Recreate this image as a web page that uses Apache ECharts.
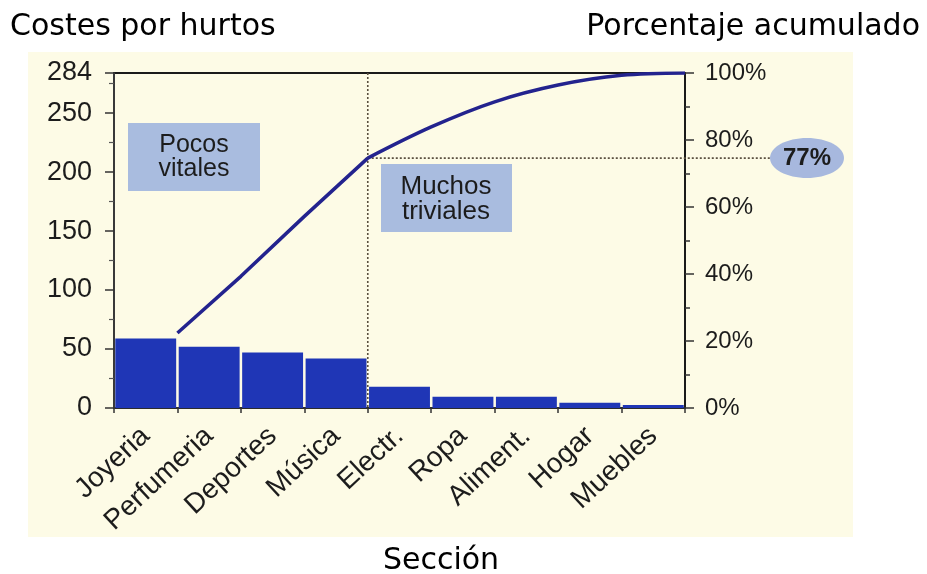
<!DOCTYPE html>
<html>
<head>
<meta charset="utf-8">
<script src="https://cdn.jsdelivr.net/npm/echarts@6/dist/echarts.min.js"></script>
<style>
html,body{margin:0;padding:0;background:#ffffff;}
#chart{width:927px;height:574px;}
</style>
</head>
<body>
<div id="chart"></div>
<script>
// ---- data ----
const categories = ['Joyeria', 'Perfumeria', 'Deportes', 'Música', 'Electr.', 'Ropa', 'Aliment.', 'Hogar', 'Muebles'];
const costs = [59, 52, 47, 42, 18, 9.5, 9.5, 4.5, 2.5];
// cumulative percentage at the right edge of each category (1..9)
const cumulativePct = [22.4, 39.3, 57.2, 74.6, 83.9, 91.4, 96.4, 99.3, 100];
const leftTickValues = [0, 50, 100, 150, 200, 250, 284];
const leftMinorTickValues = [25, 75, 125, 175, 225, 275];
const rightTickValues = [0, 20, 40, 60, 80, 100];
const splitIndex = 4;            // boundary between "pocos vitales" and "muchos triviales"
const highlightLabel = '77%';
const leftTitle = 'Costes por hurtos';
const rightTitle = 'Porcentaje acumulado';
const xTitle = 'Sección';
const boxVital = ['Pocos', 'vitales'];
const boxTrivial = ['Muchos', 'triviales'];

const cumPoints = cumulativePct.map((v, i) => [i + 1, v]);
const straightPart = cumPoints.slice(0, splitIndex);
const curvedPart = cumPoints.slice(splitIndex - 1);

const FONT = '"Liberation Sans", Arial, sans-serif';
const TITLE_FONT = '"DejaVu Sans", sans-serif';
const INK = '#1c1c1c';

const chart = echarts.init(document.getElementById('chart'), null, {renderer: 'canvas'});

const option = {
  animation: false,
  backgroundColor: 'transparent',
  grid: {
    left: 114, right: 242, top: 73, bottom: 166,
    show: true, borderColor: '#1a1a1a', borderWidth: 2, backgroundColor: 'transparent'
  },
  xAxis: [
    {
      type: 'category',
      data: categories,
      boundaryGap: true,
      axisLine: {lineStyle: {color: '#333', width: 1.5}},
      axisTick: {show: true, length: 5, lineStyle: {color: '#333', width: 1.5}},
      axisLabel: {
        rotate: 43, margin: 24, fontSize: 28, color: INK, fontFamily: FONT,
        interval: 0
      },
      splitLine: {show: false}
    },
    {
      type: 'value', min: 0, max: categories.length, show: false
    }
  ],
  yAxis: [
    {
      type: 'value', position: 'left', min: 0, max: 284,
      axisLine: {show: true, lineStyle: {color: '#444', width: 1.5}},
      axisTick: {show: true, inside: false, length: 9, customValues: leftTickValues, lineStyle: {color: '#333', width: 1.5}},
      axisLabel: {customValues: leftTickValues, fontSize: 27, color: INK, fontFamily: FONT, margin: 22},
      splitLine: {show: false}
    },
    {
      type: 'value', position: 'right', min: 0, max: 100, interval: 20,
      axisLine: {show: true, lineStyle: {color: '#1a1a1a', width: 2}},
      axisTick: {show: true, length: 9, customValues: rightTickValues, lineStyle: {color: '#333', width: 1.5}},
      minorTick: {show: true, splitNumber: 2, length: 5, lineStyle: {color: '#333', width: 1.5}},
      axisLabel: {customValues: rightTickValues, formatter: '{value}%', fontSize: 24, color: INK, fontFamily: FONT, margin: 20},
      splitLine: {show: false}
    },
    {
      type: 'value', position: 'left', min: 0, max: 284,
      axisLine: {show: false},
      axisTick: {show: true, length: 5, customValues: leftMinorTickValues, lineStyle: {color: '#555', width: 1.2}},
      axisLabel: {show: false},
      splitLine: {show: false}
    }
  ],
  series: [
    {
      type: 'bar', data: costs, xAxisIndex: 0, yAxisIndex: 0,
      barCategoryGap: '4%',
      itemStyle: {color: '#1f36b6'}
    },
    {
      type: 'line', data: straightPart, xAxisIndex: 1, yAxisIndex: 1,
      showSymbol: false, smooth: false,
      lineStyle: {color: '#23238e', width: 3.5}, z: 5
    },
    {
      type: 'line', data: curvedPart, xAxisIndex: 1, yAxisIndex: 1,
      showSymbol: false, smooth: 0.35,
      lineStyle: {color: '#23238e', width: 3.5}, z: 5
    }
  ]
};
chart.setOption(option);

// ---- annotations positioned through the axes ----
const px = (x, y) => chart.convertToPixel({xAxisIndex: 1, yAxisIndex: 1}, [x, y]);
const [vx, vTop] = px(splitIndex, 100);
const [, vBot] = px(splitIndex, 0);
const [, hy] = px(splitIndex, cumulativePct[splitIndex - 1]);
const ellipseCx = 807, ellipseRx = 37, ellipseRy = 20;

const dotted = {stroke: '#5a5040', lineWidth: 1.6, lineDash: [2, 2]};

chart.setOption({
  graphic: [
    {type: 'rect', z: -10, silent: true, shape: {x: 28, y: 52, width: 825, height: 485}, style: {fill: '#fdfbe6'}},
    {type: 'line', z: 3, shape: {x1: vx, y1: vTop, x2: vx, y2: vBot}, style: dotted},
    {type: 'line', z: 3, shape: {x1: vx, y1: hy, x2: ellipseCx - ellipseRx + 2, y2: hy}, style: dotted},
    {type: 'ellipse', z: 4, shape: {cx: ellipseCx, cy: hy, rx: ellipseRx, ry: ellipseRy}, style: {fill: '#a7b8de'}},
    {type: 'text', z: 5, x: ellipseCx, y: hy, style: {text: highlightLabel, fontSize: 24, fontWeight: 'bold', fontFamily: FONT, fill: INK, align: 'center', verticalAlign: 'middle'}},
    {type: 'rect', z: 4, shape: {x: 128, y: 123, width: 132, height: 68}, style: {fill: '#a9bcdf'}},
    {type: 'text', z: 5, x: 194, y: 157, style: {text: boxVital.join('\n'), fontSize: 25, lineHeight: 24, fontFamily: FONT, fill: INK, align: 'center', verticalAlign: 'middle'}},
    {type: 'rect', z: 4, shape: {x: 381, y: 164, width: 131, height: 68}, style: {fill: '#a9bcdf'}},
    {type: 'text', z: 5, x: 446, y: 199, style: {text: boxTrivial.join('\n'), fontSize: 26, lineHeight: 25, fontFamily: FONT, fill: INK, align: 'center', verticalAlign: 'middle'}},
    {type: 'text', x: 10, y: 27, style: {text: leftTitle, fontSize: 30, fontFamily: TITLE_FONT, fill: '#000', align: 'left', verticalAlign: 'middle'}},
    {type: 'text', x: 920, y: 27, style: {text: rightTitle, fontSize: 30, fontFamily: TITLE_FONT, fill: '#000', align: 'right', verticalAlign: 'middle'}},
    {type: 'text', x: 441, y: 561, style: {text: xTitle, fontSize: 30, fontFamily: TITLE_FONT, fill: '#000', align: 'center', verticalAlign: 'middle'}}
  ]
});
</script>
</body>
</html>
